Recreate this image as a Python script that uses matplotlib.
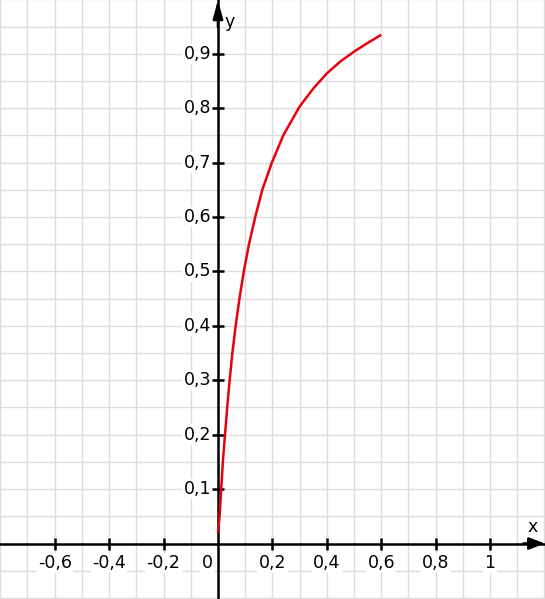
"""Math-style function plot: red saturation curve on a square grid, axes through origin.

Output: out.png
"""

import matplotlib

matplotlib.use("Agg")
import matplotlib.pyplot as plt
from matplotlib.ticker import FixedLocator, MultipleLocator, NullFormatter

# curve values
CURVE_X = [0.0, 0.006, 0.012, 0.018, 0.026, 0.034, 0.043, 0.053, 0.065, 0.079,
           0.095, 0.114, 0.137, 0.163, 0.198, 0.24, 0.25, 0.3, 0.35,
           0.4, 0.45, 0.5, 0.55, 0.6]
CURVE_Y = [0.02, 0.05, 0.1, 0.15, 0.2, 0.25, 0.3, 0.35, 0.4, 0.45,
           0.5, 0.55, 0.6, 0.65, 0.7, 0.75, 0.759, 0.803, 0.836,
           0.864, 0.886, 0.904, 0.920, 0.935]

X_TICKS = [-0.6, -0.4, -0.2, 0.2, 0.4, 0.6, 0.8, 1.0]
Y_TICKS = [0.1, 0.2, 0.3, 0.4, 0.5, 0.6, 0.7, 0.8, 0.9]

X_LIM = (-0.801, 1.202)
Y_LIM = (-0.102, 0.999)

GRID_STEP_X = 0.1
GRID_STEP_Y = 0.05

FONT_SIZE = 12.5
WHITE_BOX = dict(facecolor="white", edgecolor="none", pad=1.0)


def comma(v):
    s = f"{v:.1f}".replace(".", ",")
    return "1" if s == "1,0" else s


def axis_arrow(ax, tip, tail, style):
    ax.annotate("", xy=tip, xytext=tail, annotation_clip=False, zorder=5,
                arrowprops=dict(arrowstyle=style, color="black", lw=1.8,
                                shrinkA=0, shrinkB=0, mutation_scale=10))


def main() -> None:
    fig = plt.figure(figsize=(5.45, 5.99), dpi=100)
    ax = fig.add_axes([0, 0, 1, 1])
    ax.set_xlim(*X_LIM)
    ax.set_ylim(*Y_LIM)
    ax.set_axisbelow(True)

    # square grid (0.1 in x, 0.05 in y), drawn under everything
    for gx in MultipleLocator(GRID_STEP_X).tick_values(*X_LIM):
        ax.axvline(gx, color="#dcdcdc", linewidth=1.0, zorder=0.1)
    for gy in MultipleLocator(GRID_STEP_Y).tick_values(*Y_LIM):
        ax.axhline(gy, color="#dcdcdc", linewidth=1.0, zorder=0.1)

    for side in ("top", "right"):
        ax.spines[side].set_visible(False)
    for side in ("left", "bottom"):
        ax.spines[side].set_position(("data", 0))
        ax.spines[side].set_linewidth(1.8)
        ax.spines[side].set_zorder(4)

    ax.xaxis.set_major_locator(FixedLocator(X_TICKS))
    ax.yaxis.set_major_locator(FixedLocator(Y_TICKS))
    ax.xaxis.set_major_formatter(NullFormatter())
    ax.yaxis.set_major_formatter(NullFormatter())
    ax.tick_params(which="major", direction="inout", length=9, width=1.8,
                   colors="black")

    # tick labels on a white patch that hides the grid behind them
    for v in X_TICKS:
        ax.annotate(comma(v), xy=(v, 0), xytext=(0, -7.5), textcoords="offset points",
                    ha="center", va="top", fontsize=FONT_SIZE, bbox=WHITE_BOX, zorder=3)
    for v in Y_TICKS:
        ax.annotate(comma(v), xy=(0, v), xytext=(-5, 0), textcoords="offset points",
                    ha="right", va="center", fontsize=FONT_SIZE, bbox=WHITE_BOX, zorder=3)
    ax.annotate("0", xy=(0, 0), xytext=(-4, -7.5), textcoords="offset points",
                ha="right", va="top", fontsize=FONT_SIZE, bbox=WHITE_BOX, zorder=3)

    # arrowheads at the axis ends
    axis_arrow(ax, (X_LIM[1], 0), (X_LIM[1] - 0.08, 0), "-|>,head_length=0.95,head_width=0.36")
    axis_arrow(ax, (0, Y_LIM[1]), (0, Y_LIM[1] - 0.05), "-|>,head_length=1.1,head_width=0.3")

    ax.text(1.158, 0.030, "x", ha="center", va="center", fontsize=FONT_SIZE)
    ax.text(0.044, 0.959, "y", ha="center", va="center", fontsize=FONT_SIZE)

    ax.plot(CURVE_X, CURVE_Y, color="#e8000d", linewidth=1.8, zorder=6,
            solid_capstyle="butt", solid_joinstyle="round")

    fig.savefig("out.png", dpi=100)
    plt.close(fig)


if __name__ == "__main__":
    main()
